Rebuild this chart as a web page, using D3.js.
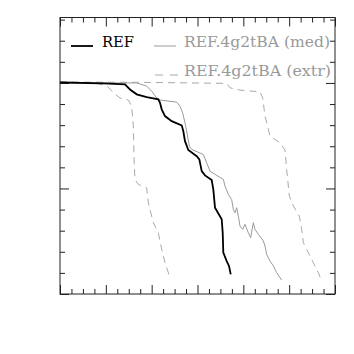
<!DOCTYPE html>
<html>
<head>
<meta charset="utf-8">
<script src="https://cdn.jsdelivr.net/npm/d3@7"></script>
<style>
  body { margin: 0; background: #fff; }
  svg { display: block; }
</style>
</head>
<body>
<div id="chart"></div>
<script>
// curves, [x, y]
const refX = [0, 0.945, 1.418, 1.527, 1.674, 1.892, 2.145, 2.182, 2.219, 2.291, 2.437, 2.655, 2.69, 2.727, 2.8, 2.983, 3.04, 3.092, 3.164, 3.31, 3.345, 3.382, 3.528, 3.55, 3.563, 3.637, 3.687, 3.725];
const refY = [100.2, 99.8, 99.3, 96.9, 94.6, 93.3, 92.2, 90.6, 87.5, 84.3, 81.9, 79.9, 77.2, 72.4, 68.2, 65.3, 63.8, 58.2, 56.2, 54.0, 49.6, 40.9, 35.4, 29.0, 19.6, 15.6, 13.3, 9.3];

const medX = [0, 0.727, 1.673, 1.891, 2.0, 2.109, 2.182, 2.545, 2.618, 2.676, 2.727, 2.764, 2.822, 2.873, 3.127, 3.2, 3.273, 3.382, 3.564, 3.6, 3.673, 3.745, 3.782, 3.818, 3.855, 3.891, 3.927, 3.985, 4.036, 4.109, 4.16, 4.218, 4.255, 4.327, 4.436, 4.473, 4.509, 4.582, 4.655, 4.727, 4.836];
const medY = [100.4, 100.0, 100.0, 98.5, 96.1, 92.9, 91.9, 90.9, 89.0, 85.8, 81.1, 77.2, 70.1, 68.5, 66.1, 62.2, 58.2, 56.7, 54.3, 51.1, 47.2, 44.8, 40.1, 38.5, 40.9, 36.9, 32.2, 30.6, 33.0, 29.0, 26.7, 33.8, 30.6, 28.3, 25.1, 22.7, 18.8, 15.6, 13.3, 10.1, 6.6];

const extrLoX = [0, 0.727, 1.018, 1.164, 1.309, 1.491, 1.564, 1.6, 1.615, 1.636, 1.709, 1.891, 1.927, 2.036, 2.145, 2.218, 2.291, 2.364, 2.4];
const extrLoY = [100.4, 100, 98.8, 95.3, 92.9, 91.9, 89.0, 79.5, 63.8, 54.3, 51.9, 50.3, 43.2, 33.8, 29.0, 21.2, 14.8, 10.1, 7.0];

const extrHiX = [0, 1.673, 3.637, 3.709, 3.927, 4.364, 4.422, 4.473, 4.582, 4.8, 4.909, 4.945, 5.004, 5.091, 5.222, 5.273, 5.309, 5.418, 5.527, 5.636, 5.709];
const extrHiY = [100.4, 100.3, 99.8, 97.7, 96.6, 95.8, 92.9, 84.3, 74.8, 71.6, 68.2, 59.0, 46.4, 41.7, 36.9, 30.6, 24.3, 19.6, 14.8, 10.1, 6.2];

const legendLabels = ["REF", "REF.4g2tBA (med)", "REF.4g2tBA (extr)"];

const W = 354, H = 354;
const mLeft = 60, mRight = 335, mTop = 17.5, mBottom = 294;

const svg = d3.select('#chart')
  .append('svg')
  .attr('width', W)
  .attr('height', H);

const x = d3.scaleLinear().domain([0, 6]).range([mLeft, mRight]);
const y = d3.scaleLinear().domain([0, 131]).range([mBottom, mTop]);

const xMinor = d3.range(0, 6.01, 0.25).filter(v => v % 1 !== 0);
const xMajor = d3.range(0, 6.01, 1);
const yMinor = d3.range(0, 131, 10).filter(v => v % 50 !== 0);
const yMajor = d3.range(0, 131, 50);

function ticks(axisFn, vals, size, tx, ty) {
  const g = svg.append('g')
    .attr('transform', `translate(${tx},${ty})`)
    .call(axisFn.tickValues(vals).tickSize(size).tickSizeOuter(0).tickFormat(''));
  g.select('.domain').remove();
  g.selectAll('line').attr('stroke', '#222').attr('stroke-width', 1);
}

ticks(d3.axisBottom(x), xMinor, -5, 0, mBottom);
ticks(d3.axisBottom(x), xMajor, -9, 0, mBottom);
ticks(d3.axisTop(x), xMinor, -5, 0, mTop);
ticks(d3.axisTop(x), xMajor, -9, 0, mTop);
ticks(d3.axisLeft(y), yMinor, -5, mLeft, 0);
ticks(d3.axisLeft(y), yMajor, -9, mLeft, 0);
ticks(d3.axisRight(y), yMinor, -5, mRight, 0);
ticks(d3.axisRight(y), yMajor, -9, mRight, 0);

const line = d3.line().x(d => x(d[0])).y(d => y(d[1]));
const pairs = (xs, ys) => xs.map((v, i) => [v, ys[i]]);

svg.append('defs').append('clipPath').attr('id', 'clip')
  .append('rect').attr('x', mLeft).attr('y', mTop)
  .attr('width', mRight - mLeft).attr('height', mBottom - mTop);

const plot = svg.append('g').attr('clip-path', 'url(#clip)');

[extrLoX, extrHiX].forEach((xs, i) => {
  const ys = i === 0 ? extrLoY : extrHiY;
  plot.append('path')
    .datum(pairs(xs, ys))
    .attr('d', line)
    .attr('fill', 'none')
    .attr('stroke', '#a8a8a8')
    .attr('stroke-width', 1)
    .attr('stroke-dasharray', '7,5');
});

plot.append('path')
  .datum(pairs(medX, medY))
  .attr('d', line)
  .attr('fill', 'none')
  .attr('stroke', '#9a9a9a')
  .attr('stroke-width', 1);

plot.append('path')
  .datum(pairs(refX, refY))
  .attr('d', line)
  .attr('fill', 'none')
  .attr('stroke', '#000')
  .attr('stroke-width', 1.8);

// frame
svg.append('rect')
  .attr('x', mLeft).attr('y', mTop)
  .attr('width', mRight - mLeft).attr('height', mBottom - mTop)
  .attr('fill', 'none')
  .attr('stroke', '#222')
  .attr('stroke-width', 1);

// legend
const leg = [
  { x1: 71, x2: 93, y: 46, tx: 102, ty: 47, w: 32, stroke: '#000', sw: 1.8, dash: null, fill: '#000' },
  { x1: 154, x2: 176, y: 46, tx: 184, ty: 47, w: 146, stroke: '#9a9a9a', sw: 1, dash: null, fill: '#999' },
  { x1: 155, x2: 178, y: 75, tx: 184, ty: 75.5, w: 147, stroke: '#a8a8a8', sw: 1, dash: '8,7', fill: '#999' }
];
leg.forEach((d, i) => {
  svg.append('line')
    .attr('x1', d.x1).attr('x2', d.x2)
    .attr('y1', d.y).attr('y2', d.y)
    .attr('stroke', d.stroke)
    .attr('stroke-width', d.sw)
    .attr('stroke-dasharray', d.dash);
  svg.append('text')
    .attr('x', d.tx).attr('y', d.ty)
    .attr('font-family', '"DejaVu Serif"')
    .attr('font-size', 14)
    .attr('textLength', d.w)
    .attr('lengthAdjust', 'spacingAndGlyphs')
    .attr('fill', d.fill)
    .text(legendLabels[i]);
});
</script>
</body>
</html>
